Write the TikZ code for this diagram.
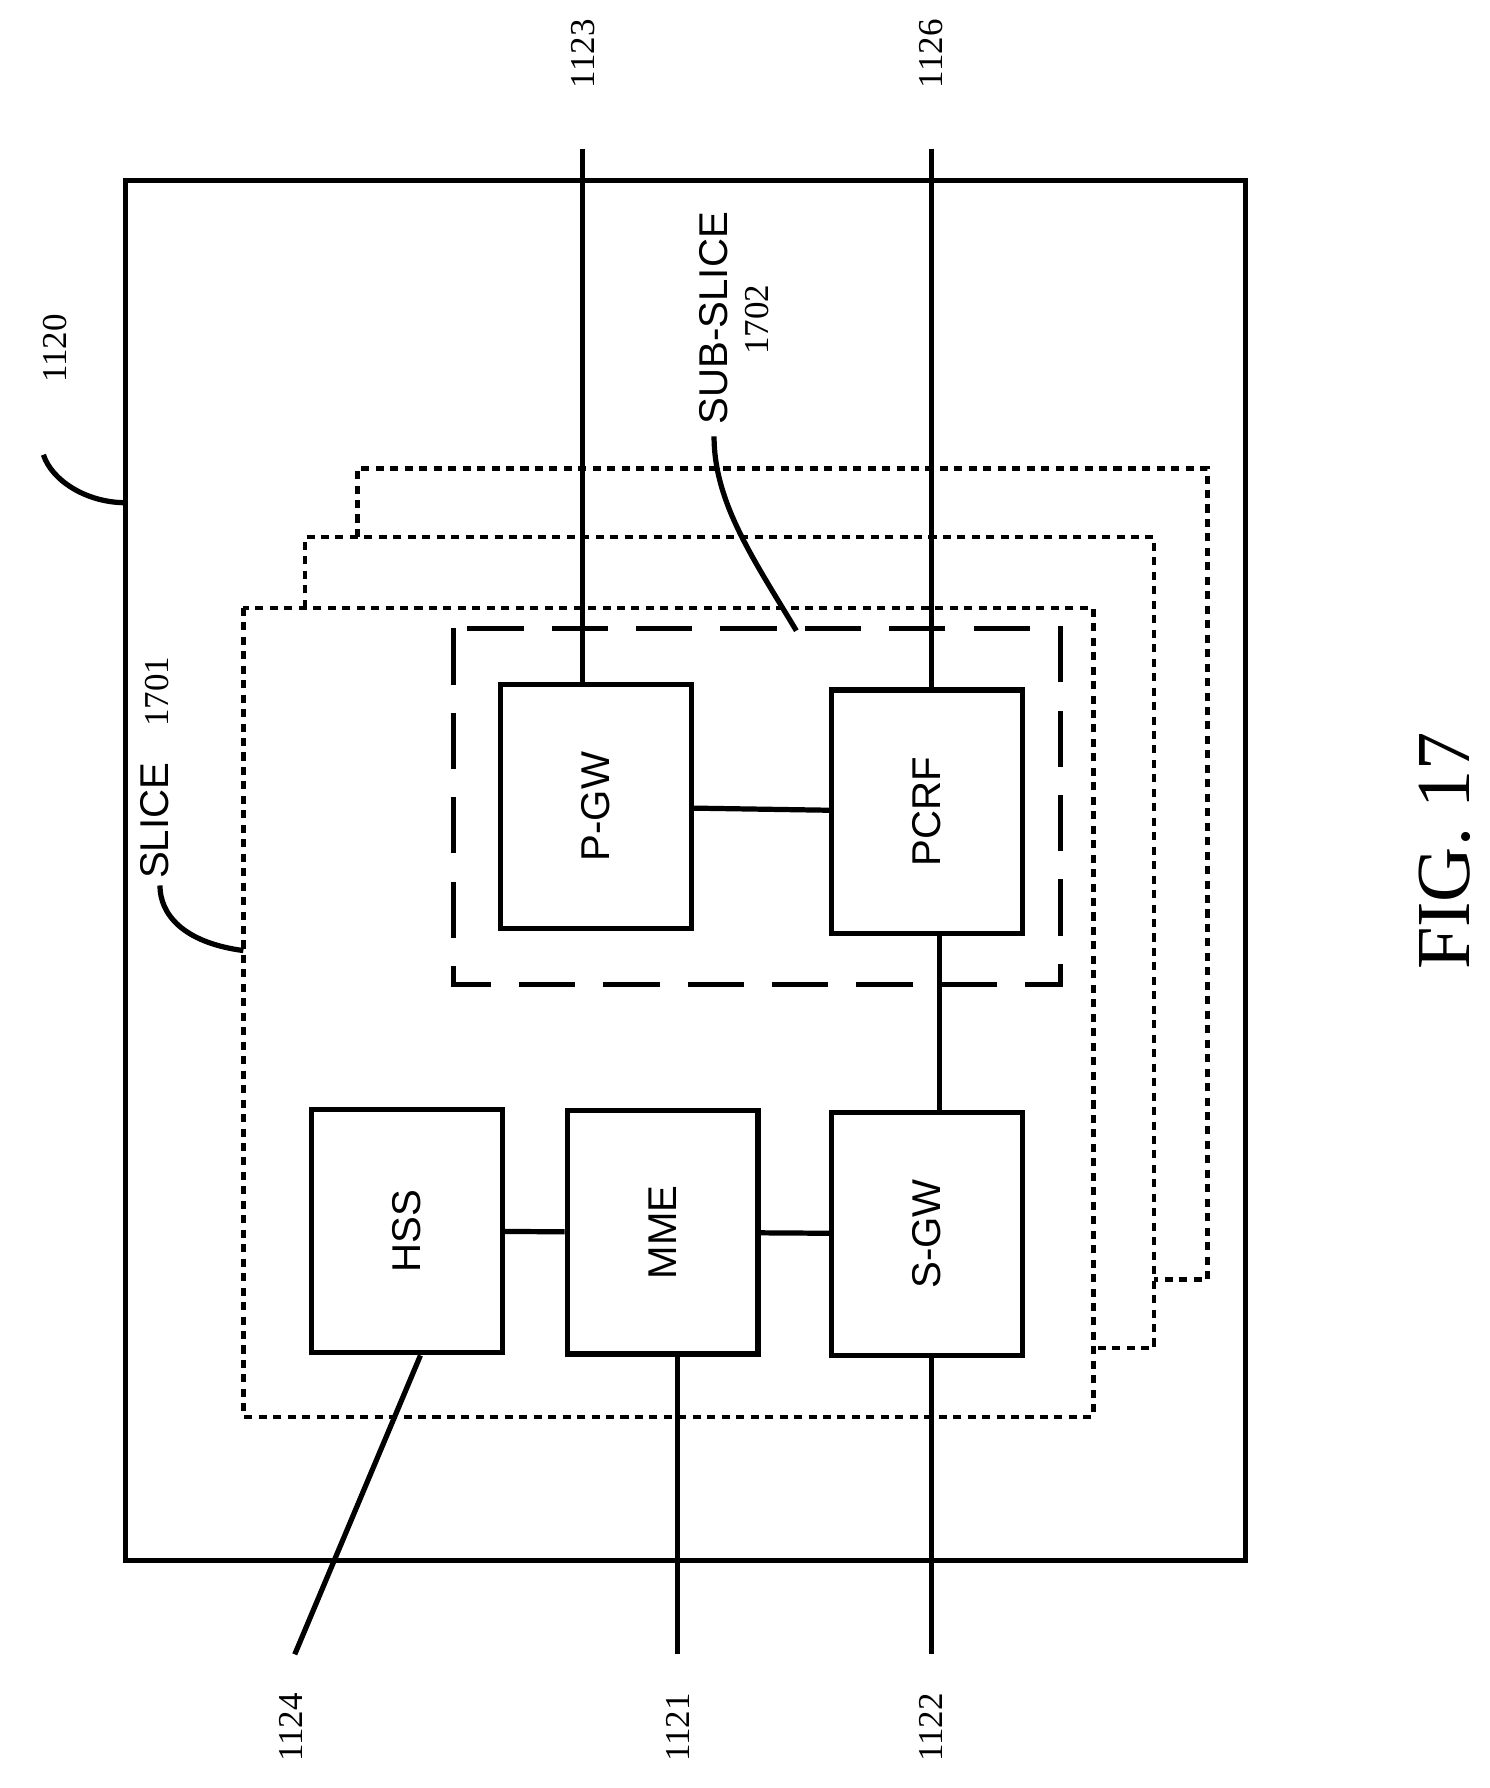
\documentclass[tikz,border=0pt]{standalone}
\usepackage{fontspec}
\setmainfont{Liberation Serif}
\newfontfamily\boxfont{Liberation Sans}
\begin{document}
\begin{tikzpicture}[line cap=butt,line join=miter,x=0.01cm,y=-0.01cm,
	blk/.style={draw,line width=1.3pt,fill=white,minimum width=1.67cm,minimum height=2.13cm,inner sep=0pt,font=\boxfont\fontsize{10}{12}\selectfont},
	ref/.style={font=\fontsize{8.7}{10}\selectfont,rotate=90},
	wire/.style={line width=1.3pt},
	slc/.style={line width=1.1pt,dash pattern=on 2pt off 1.6pt}]
				\useasboundingbox (0,0) rectangle (1304,1565);
				\draw [wire] (110,158) rectangle (1090,1366);
				\node[ref] (n1120) at (48,305) {1120};
				\draw [wire] (38,398) .. controls (45,420) and (75,440) .. (110,440);
				% stacked slices
				\draw [slc] (313,470)-- (313,410)-- (1057,410)-- (1057,1120)-- (1010,1120);
				\draw [slc] (267,532)-- (267,470)-- (1010,470)-- (1010,1180)-- (957,1180);
				\draw [slc,fill=white] (213,532) rectangle (957,1240);
				\node[rotate=90,anchor=west,inner sep=0pt] (slice) at (135,770) {{\boxfont\fontsize{10}{12}\selectfont SLICE}\hspace{0.9em}{\fontsize{8.7}{10}\selectfont 1701}};
				\draw [wire] (213,832) .. controls (160,825) and (140,800) .. (140,775);
				% sub-slice
				\draw [line width=1.3pt,dash pattern=on 14pt off 7pt] (397,550) rectangle (928,862);
				\node[rotate=90,anchor=west,inner sep=0pt] (subslice) at (625,372) {\boxfont\fontsize{10}{12}\selectfont SUB-SLICE};
				\node[ref] (n1702) at (663,280) {1702};
				\draw [wire] (625,382) .. controls (625,440) and (660,490) .. (697,552);
				% network functions
				\node[blk] (pgw) at (521.5,706) {\rotatebox{90}{P-GW}};
				\node[blk] (pcrf) at (811.5,710.5) {\rotatebox{90}{PCRF}};
				\node[blk] (hss) at (356,1077.5) {\rotatebox{90}{HSS}};
				\node[blk] (mme) at (580,1078.5) {\rotatebox{90}{MME}};
				\node[blk] (sgw) at (811.5,1080) {\rotatebox{90}{S-GW}};
				\draw [wire] (pgw) -- (pcrf);
				\draw [wire] (pcrf.south -| 822,0) -- (sgw.north -| 822,0);
				\draw [wire] (hss) -- (mme);
				\draw [wire] (mme) -- (sgw);
				% external interfaces
				\coordinate (e1123) at (510,130);
				\coordinate (e1126) at (815,130);
				\coordinate (e1124) at (258,1448);
				\coordinate (e1121) at (593,1448);
				\coordinate (e1122) at (815,1448);
				\draw [wire] (e1123) -- (pgw.north -| e1123);
				\draw [wire] (e1126) -- (pcrf.north -| e1126);
				\draw [wire] (hss.south -| 368,0) -- (e1124);
				\draw [wire] (mme.south -| e1121) -- (e1121);
				\draw [wire] (sgw.south -| e1122) -- (e1122);
				\node[ref] (n1123) at (510,47) {1123};
				\node[ref] (n1126) at (815,47) {1126};
				\node[ref] (n1124) at (255,1512) {1124};
				\node[ref] (n1121) at (593,1512) {1121};
				\node[ref] (n1122) at (815,1512) {1122};
				\node[rotate=90,font=\fontsize{19}{22}\selectfont] (fig) at (1265,745) {FIG. 17};
			\end{tikzpicture}
\end{document}
